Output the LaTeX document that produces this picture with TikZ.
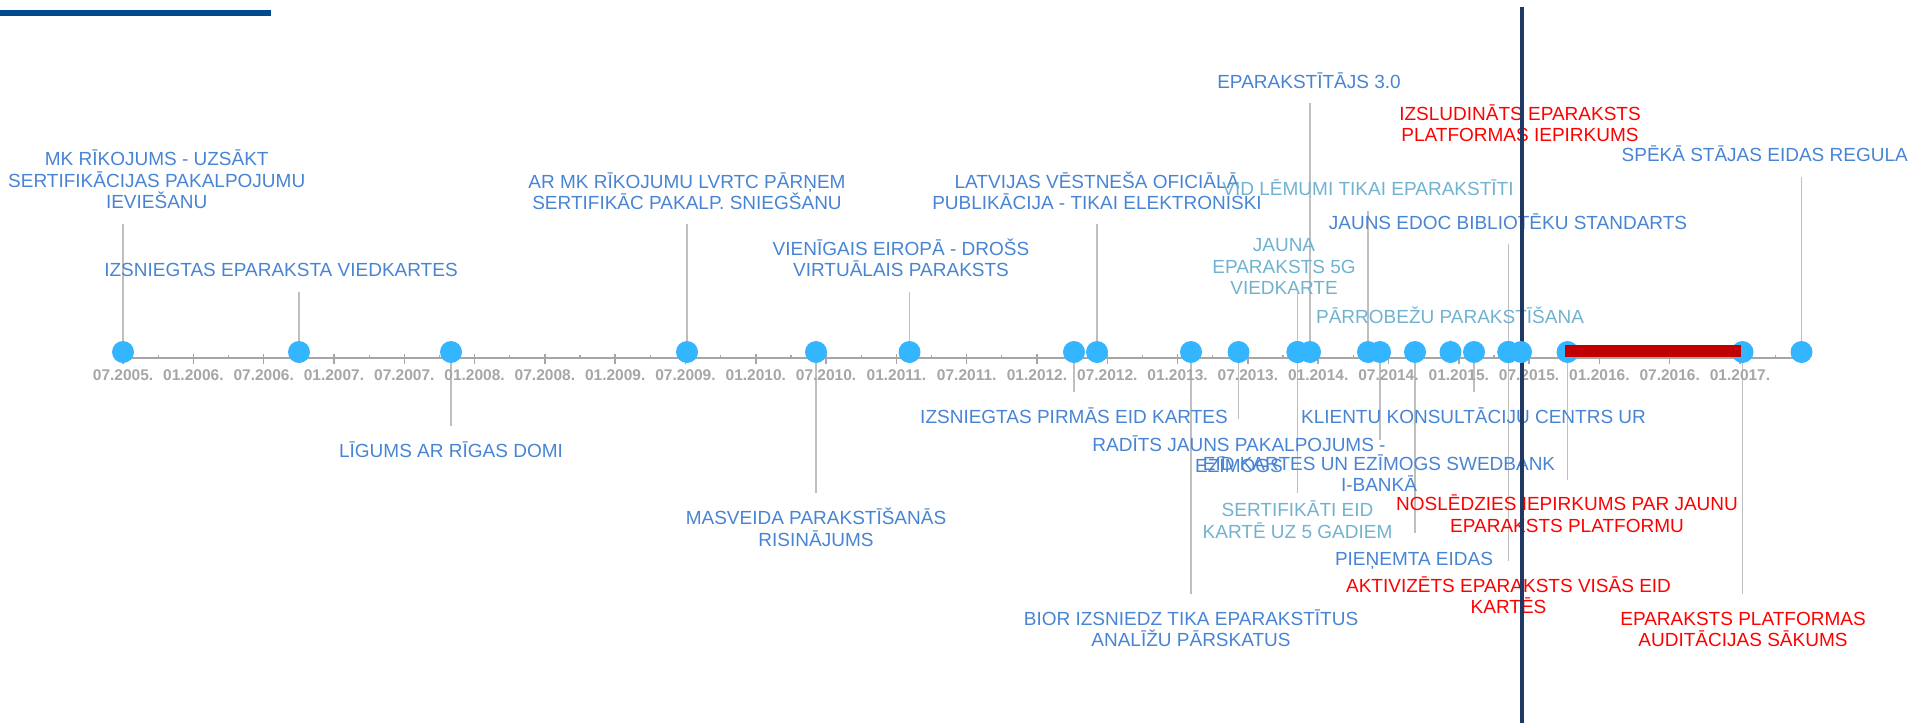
\documentclass[tikz,border=0pt]{standalone}
\usepackage{fontspec}
\setmainfont{Liberation Sans}
\usepackage{tikz}
\usetikzlibrary{positioning}

\definecolor{evblue}{RGB}{72,132,212}
\definecolor{evteal}{RGB}{112,178,208}
\definecolor{evred}{RGB}{255,0,0}
\definecolor{dotblue}{RGB}{51,181,255}
\definecolor{axisgray}{RGB}{166,166,166}
\definecolor{stemgray}{RGB}{191,191,191}
\definecolor{barred}{RGB}{192,0,0}
\definecolor{nowline}{RGB}{31,56,100}
\definecolor{topbar}{RGB}{0,74,140}

\begin{document}
\begin{tikzpicture}[x=1pt,y=-1pt,
  ev/.style={inner sep=0pt,align=center,anchor=base,text=evblue,
    font=\fontsize{19}{21.5}\selectfont},
  evt/.style={ev,text=evteal},
  evr/.style={ev,text=evred},
  evdot/.style={circle,fill=dotblue,inner sep=0pt,minimum size=22pt},
  evstem/.style={draw=stemgray,line width=1.5pt},
  datelab/.style={inner sep=0pt,anchor=base,text=axisgray,
    font=\fontsize{15.5}{17}\selectfont\bfseries}]
\useasboundingbox (0,0) rectangle (1915,723);
\fill[topbar] (0,10) rectangle (271,16);

% one point on the axis for every event
\foreach \x [count=\i] in {123,299,451,687,816,909.5,1074,1097,1191,1238.5,
  1297.5,1297.5,1310,1368,1380,1415,1450.5,1474,1508.3,1508.3,1521,1567.5,
  1742.5,1801.5}
  \coordinate (d\i) at (\x,352);

% stems up or down to the texts
\foreach \i/\y in {1/224,2/292,3/426,4/224,5/493,6/292,7/392,8/224,9/594,
  10/419,11/293,12/493,13/103,14/211,15/440,16/533,17/340,18/392,19/244,
  20/561,21/157,22/480,23/594,24/177}{
  \coordinate (s\i) at (d\i |- 0,\y);
  \draw[evstem] (d\i) -- (s\i);
}

% texts (base = baseline of the last line)
\node[ev,anchor=base west] (ev1) at (8,208.5) {MK RĪKOJUMS - UZSĀKT\\SERTIFIKĀCIJAS PAKALPOJUMU\\IEVIEŠANU};
\node[ev] (ev2) at (281,276) {IZSNIEGTAS EPARAKSTA VIEDKARTES};
\node[ev] (ev3) at (451,457) {LĪGUMS AR RĪGAS DOMI};
\node[ev] (ev4) at (687,209.5) {AR MK RĪKOJUMU LVRTC PĀRŅEM\\SERTIFIKĀC PAKALP. SNIEGŠANU};
\node[ev] (ev5) at (816,546) {MASVEIDA PARAKSTĪŠANĀS\\RISINĀJUMS};
\node[ev] (ev6) at (901,276.5) {VIENĪGAIS EIROPĀ - DROŠS\\VIRTUĀLAIS PARAKSTS};
\node[ev] (ev7) at (1074,423) {IZSNIEGTAS PIRMĀS EID KARTES};
\node[ev] (ev8) at (1097,209.5) {LATVIJAS VĒSTNEŠA OFICIĀLĀ\\PUBLIKĀCIJA - TIKAI ELEKTRONISKI};
\node[ev] (ev9) at (1191,646.5) {BIOR IZSNIEDZ TIKA EPARAKSTĪTUS\\ANALĪŽU PĀRSKATUS};
\node[ev] (ev10) at (1239,472.5) {RADĪTS JAUNS PAKALPOJUMS -\\EZĪMOGS};
\node[evt] (ev11) at (1284,294.5) {JAUNA\\EPARAKSTS 5G\\VIEDKARTE};
\node[evt] (ev12) at (1297.5,538) {SERTIFIKĀTI EID\\KARTĒ UZ 5 GADIEM};
\node[ev] (ev13) at (1309,88) {EPARAKSTĪTĀJS 3.0};
\node[evt] (ev14) at (1368,195) {VID LĒMUMI TIKAI EPARAKSTĪTI};
\node[ev] (ev15) at (1379,491.5) {EID KARTES UN EZĪMOGS SWEDBANK\\I-BANKĀ};
\node[ev] (ev16) at (1414,565) {PIEŅEMTA EIDAS};
\node[evt] (ev17) at (1450,323) {PĀRROBEŽU PARAKSTĪŠANA};
\node[ev] (ev18) at (1473.5,423) {KLIENTU KONSULTĀCIJU CENTRS UR};
\node[ev] (ev19) at (1508,229) {JAUNS EDOC BIBLIOTĒKU STANDARTS};
\node[evr] (ev20) at (1508.5,613.5) {AKTIVIZĒTS EPARAKSTS VISĀS EID\\KARTĒS};
\node[evr] (ev21) at (1520,141.5) {IZSLUDINĀTS EPARAKSTS\\PLATFORMAS IEPIRKUMS};
\node[evr] (ev22) at (1567,532) {NOSLĒDZIES IEPIRKUMS PAR JAUNU\\EPARAKSTS PLATFORMU};
\node[evr] (ev23) at (1743,646.5) {EPARAKSTS PLATFORMAS\\AUDITĀCIJAS SĀKUMS};
\node[ev,anchor=base east] (ev24) at (1908,161) {SPĒKĀ STĀJAS EIDAS REGULA};

% time axis
\coordinate (ax0) at (122,358);
\coordinate (ax1) at (1808,358);
\draw[axisgray,line width=2pt] (ax0) -- (ax1);
\foreach \k in {0,...,23}{
  \draw[axisgray,line width=1.5pt] (123.1+\k*70.3,354) -- ++(0,10);
  \draw[axisgray,line width=1.2pt] (158.25+\k*70.3,355) -- ++(0,3);
}
\foreach \lab [count=\k from 0] in {07.2005.,01.2006.,07.2006.,01.2007.,
  07.2007.,01.2008.,07.2008.,01.2009.,07.2009.,01.2010.,07.2010.,01.2011.,
  07.2011.,01.2012.,07.2012.,01.2013.,07.2013.,01.2014.,07.2014.,01.2015.,
  07.2015.,01.2016.,07.2016.,01.2017.}
  \node[datelab] (t\k) at (123.1+\k*70.3,380.5) {\lab};

% today
\coordinate (now0) at (1522,7);
\coordinate (now1) at (1522,723);
\draw[nowline,line width=3.5pt] (now0) -- (now1);

\foreach \i in {1,...,24}
  \node[evdot] (dot\i) at (d\i) {};

\fill[barred] (1565,345) rectangle (1741,357);
\end{tikzpicture}
\end{document}
